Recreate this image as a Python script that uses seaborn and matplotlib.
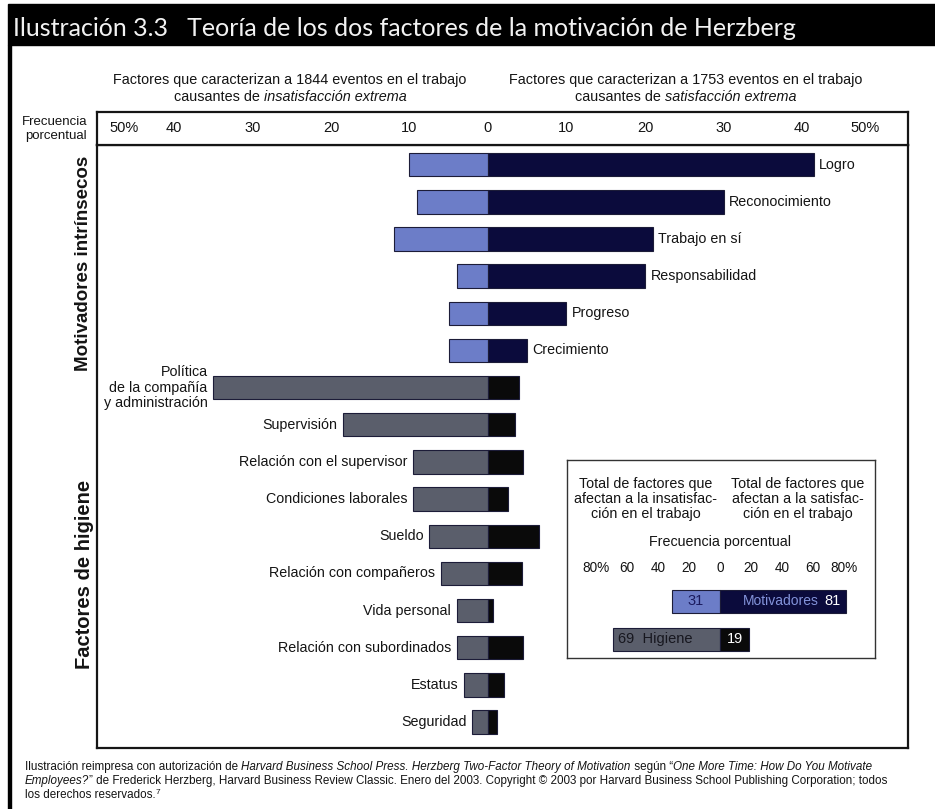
import matplotlib
matplotlib.use("Agg")
import matplotlib.pyplot as plt
import seaborn as sns
import pandas as pd
from matplotlib.patches import Rectangle

# ---------------- data ----------------
factors = [
    "Logro", "Reconocimiento", "Trabajo en sí", "Responsabilidad", "Progreso", "Crecimiento",
    "Política\nde la compañía\ny administración", "Supervisión", "Relación con el supervisor",
    "Condiciones laborales", "Sueldo", "Relación con compañeros", "Vida personal",
    "Relación con subordinados", "Estatus", "Seguridad",
]
groups = ["Motivadores"] * 6 + ["Higiene"] * 10
# % of events causing extreme dissatisfaction (left) and extreme satisfaction (right)
dissatisfaction = [10, 9, 12, 4, 5, 5, 35, 18.5, 9.5, 9.5, 7.5, 6, 4, 4, 3, 2]
satisfaction = [41.5, 30, 21, 20, 10, 5, 4, 3.5, 4.5, 2.5, 6.5, 4.3, 0.7, 4.5, 2, 1.2]

tick_values = [-50, -40, -30, -20, -10, 0, 10, 20, 30, 40, 50]
tick_labels = ["50%", "40", "30", "20", "10", "0", "10", "20", "30", "40", "50%"]

total_groups = ["Motivadores", "Higiene"]
total_dissatisfaction = [31, 69]
total_satisfaction = [81, 19]
inset_tick_values = [-80, -60, -40, -20, 0, 20, 40, 60, 80]
inset_tick_labels = ["80%", "60", "40", "20", "0", "20", "40", "60", "80%"]

# ---------------- style ----------------
sns.set_style("white")
plt.rcParams["font.family"] = ["Liberation Sans", "DejaVu Sans"]

LIGHT = "#6c7dc8"
NAVY = "#0b0b3c"
GREY = "#5a5e6b"
BLACK = "#0a0a0a"
EDGE = "#1c1c38"
INK = "#141414"

W, H = 935, 809
fig = plt.figure(figsize=(W / 100, H / 100), dpi=100, facecolor="white")


def fx(x):
    return x / W


def fy(y):
    return 1 - y / H


def rect(x0, y0, x1, y1):
    return [fx(x0), fy(y1), (x1 - x0) / W, (y1 - y0) / H]


renderer = fig.canvas.get_renderer()


def rich_line(x, y, segments, ha="left", **kw):
    """Draw a line of text made of (string, style, size scale, rise) pieces, in pixel coords."""
    texts, cur = [], x
    base = kw.pop("fontsize", 10)
    for s, style, scale, rise in segments:
        t = fig.text(fx(cur), fy(y - rise), s, style=style, va="center", ha="left",
                     fontsize=base * scale, **kw)
        cur += t.get_window_extent(renderer).width
        texts.append(t)
    if ha == "center":
        shift = (cur - x) / 2
        for t in texts:
            px, py = t.get_position()
            t.set_position((px - shift / W, py))
    return texts


def seg(s, style="normal", scale=1.0, rise=0):
    return (s, style, scale, rise)


# ---------------- page decorations ----------------
fig.patches.append(Rectangle((fx(8), fy(45)), 1 - fx(8), (45 - 4) / H,
                             transform=fig.transFigure, color="black", zorder=0))
fig.patches.append(Rectangle((fx(8), 0), 3 / W, fy(45),
                             transform=fig.transFigure, color="black", zorder=0))
fig.text(fx(13), fy(28), "Ilustración 3.3   Teoría de los dos factores de la motivación de Herzberg",
         color="#f2f2f2", fontsize=18, family=["Lato", "DejaVu Sans"], va="center", ha="left")

# column headings
HEAD = dict(fontsize=10.4, color=INK)
rich_line(290, 80, [seg("Factores que caracterizan a 1844 eventos en el trabajo")], ha="center", **HEAD)
rich_line(290, 97, [seg("causantes de "), seg("insatisfacción extrema", "italic")], ha="center", **HEAD)
rich_line(686, 80, [seg("Factores que caracterizan a 1753 eventos en el trabajo")], ha="center", **HEAD)
rich_line(686, 97, [seg("causantes de "), seg("satisfacción extrema", "italic")], ha="center", **HEAD)

fig.text(fx(87), fy(129), "Frecuencia\nporcentual", ha="right", va="center",
         multialignment="right", fontsize=9.5, linespacing=1.15, color=INK)
fig.text(fx(84), fy(263), "Motivadores intrínsecos", rotation=90, ha="center", va="center",
         fontsize=13.5, fontweight="bold", color=INK)
fig.text(fx(84), fy(574), "Factores de higiene", rotation=90, ha="center", va="center",
         fontsize=14.5, fontweight="bold", color=INK)

# ---------------- main chart ----------------
XLIM = (-49.8, 53.5)
ax = fig.add_axes(rect(97, 145, 908, 748))
axh = fig.add_axes(rect(97, 112, 908, 145))

df = pd.DataFrame({
    "factor": factors,
    "grupo": groups,
    "insat": [-v for v in dissatisfaction],
    "sat": satisfaction,
})

common = dict(data=df, y="factor", hue="grupo", order=factors, hue_order=["Motivadores", "Higiene"],
              dodge=False, width=0.63, orient="h", errorbar=None, legend=False, saturation=1,
              edgecolor=EDGE, linewidth=0.8, ax=ax)
sns.barplot(x="insat", palette={"Motivadores": LIGHT, "Higiene": GREY}, **common)
sns.barplot(x="sat", palette={"Motivadores": NAVY, "Higiene": BLACK}, **common)

ax.set_xlim(*XLIM)
ax.set_ylim(15.70, -0.53)
ax.set_xticks([])
ax.set_yticks([])
ax.set_xlabel("")
ax.set_ylabel("")

PAD = 0.7
for i, (name, grp, d, s) in enumerate(zip(factors, groups, dissatisfaction, satisfaction)):
    if grp == "Motivadores":
        ax.text(s + PAD, i, name, ha="left", va="center", fontsize=10.3, color=INK)
    else:
        ax.text(-d - PAD, i, name, ha="right", va="center", multialignment="right",
                fontsize=10.3, color=INK, linespacing=1.12)

# percentage scale band; the two end labels sit a little inside the frame
axh.set_xlim(*XLIM)
axh.set_ylim(0, 1)
axh.set_xticks([])
axh.set_yticks([])
for v, lab in zip(tick_values, tick_labels):
    if v == -50:
        pos = v + 3.6
    elif v == 50:
        pos = v - 2.0
    else:
        pos = v
    axh.text(pos, 0.5, lab, ha="center", va="center", fontsize=10.5, color=INK)

for a in (ax, axh):
    for sp in a.spines.values():
        sp.set_visible(True)
        sp.set_color("#151515")
        sp.set_linewidth(1.6)

# ---------------- totals inset ----------------
axi = fig.add_axes(rect(567, 460, 875, 658))
tot = pd.DataFrame({"grupo": total_groups,
                    "insat": [-v for v in total_dissatisfaction],
                    "sat": total_satisfaction})
icommon = dict(data=tot, y="grupo", hue="grupo", order=total_groups, hue_order=total_groups,
               dodge=False, width=0.62, orient="h", errorbar=None, legend=False, saturation=1,
               edgecolor=EDGE, linewidth=0.8, ax=axi)
sns.barplot(x="insat", palette={"Motivadores": LIGHT, "Higiene": GREY}, **icommon)
sns.barplot(x="sat", palette={"Motivadores": NAVY, "Higiene": BLACK}, **icommon)
axi.set_xlim(-98.7, 100)
axi.set_ylim(1.487, -3.72)
axi.set_xticks([])
axi.set_yticks([])
axi.set_xlabel("")
axi.set_ylabel("")
for sp in axi.spines.values():
    sp.set_visible(True)
    sp.set_color("#333333")
    sp.set_linewidth(1.0)

axi.text(-48, -2.70, "Total de factores que\nafectan a la insatisfac-\nción en el trabajo",
         ha="center", va="center", fontsize=10.3, color=INK, linespacing=1.08)
axi.text(50, -2.70, "Total de factores que\nafectan a la satisfac-\nción en el trabajo",
         ha="center", va="center", fontsize=10.3, color=INK, linespacing=1.08)
axi.text(0, -1.57, "Frecuencia porcentual", ha="center", va="center", fontsize=10.3, color=INK)
for v, lab in zip(inset_tick_values, inset_tick_labels):
    axi.text(v, -0.88, lab, ha="center", va="center", fontsize=9.8, color=INK)

mot_d, hig_d = total_dissatisfaction
mot_s, hig_s = total_satisfaction
axi.text(-mot_d / 2, 0, f"{mot_d}", ha="center", va="center", fontsize=10.5, color="#1b1b5e")
axi.text(mot_s - 3, 0, f"{mot_s}", ha="right", va="center", fontsize=10.5, color="white")
axi.text(mot_s - 17, 0, "Motivadores", ha="right", va="center", fontsize=10, color="#8393da")
axi.text(-hig_d + 3, 1, f"{hig_d}  Higiene", ha="left", va="center", fontsize=10.5, color="#17171f")
axi.text(hig_s / 2, 1, f"{hig_s}", ha="center", va="center", fontsize=10.5, color="white")

# ---------------- credit line ----------------
FOOT = dict(fontsize=8.4, color=INK)
rich_line(25, 767, [
    seg("Ilustración reimpresa con autorización de "),
    seg("Harvard Business School Press. Herzberg Two-Factor Theory of Motivation", "italic"),
    seg(" según \u201c"),
    seg("One More Time: How Do You Motivate", "italic"),
], **FOOT)
rich_line(25, 781, [
    seg("Employees?", "italic"),
    seg("\u201d de Frederick Herzberg, Harvard Business Review Classic. Enero del 2003. "
        "Copyright \u00a9 2003 por Harvard Business School Publishing Corporation; todos"),
], **FOOT)
rich_line(25, 795, [seg("los derechos reservados."), seg("7", scale=0.7, rise=3)], **FOOT)

fig.savefig("out.png", dpi=100, facecolor="white")
